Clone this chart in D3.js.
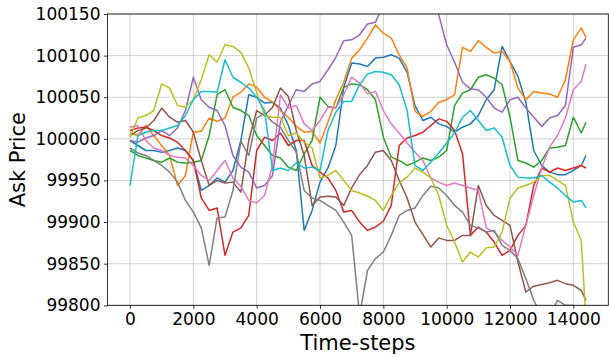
<!DOCTYPE html>
<html><head><meta charset="utf-8">
<script src="https://cdn.jsdelivr.net/npm/d3@7"></script>
<style>
html,body{margin:0;padding:0;background:#fff;}
svg{display:block;font-family:"DejaVu Sans",sans-serif;}
</style></head>
<body><svg id="c" width="609" height="357"></svg>
<script>
const timeSteps = [0,250,500,750,1000,1250,1500,1750,2000,2250,2500,2750,3000,3250,3500,3750,4000,4250,4500,4750,5000,5250,5500,5750,6000,6250,6500,6750,7000,7250,7500,7750,8000,8250,8500,8750,9000,9250,9500,9750,10000,10250,10500,10750,11000,11250,11500,11750,12000,12250,12500,12750,13000,13250,13500,13750,14000,14250,14400];
const blue   = [99998,99992,99986,99986,99984,99986,99989,99986,99974,99938,99944,99953,99948,99962,99998,100053,100050,100043,100044,100037,100016,99986,99890,99914,99948,99965,99992,100062,100091,100090,100087,100097,100098,100101,100097,100080,100040,100022,100026,100018,100015,100008,100014,100018,100028,100047,100059,100111,100093,100075,100044,99986,99968,99960,99957,99957,99962,99968,99980];
const orange = [100007,100004,100016,100004,99992,99980,99944,99956,100008,100009,100025,100021,100025,100050,100056,100066,100062,100050,100044,100034,100026,100015,100008,100009,99995,100020,100047,100068,100097,100107,100121,100137,100127,100121,100101,100085,100033,100027,100033,100044,100047,100053,100110,100105,100118,100110,100103,100105,100093,100061,100047,100057,100055,100054,100050,100071,100119,100133,100122];
const green  = [99986,99980,99977,99974,99972,99977,99972,99971,99972,99974,100004,100053,100059,100038,100034,100028,100004,99992,99980,99977,99966,99962,99982,99998,100050,100039,100037,100062,100066,100065,100059,100047,100002,99978,99974,99968,99972,99977,99974,99978,99986,100040,100055,100059,100074,100077,100073,100065,100026,99974,99971,99966,99974,99989,99990,99992,100026,100007,100020];
const red    = [100010,100013,100014,100010,100004,100001,99996,99986,99974,99929,99914,99917,99860,99888,99893,99908,99986,100002,99998,100007,99992,99998,99998,99968,99960,99953,99938,99912,99914,99900,99890,99894,99901,99920,99992,100001,100004,100008,100016,100024,100021,100010,99982,99884,99894,99888,99876,99860,99866,99884,99896,99944,99965,99960,99965,99962,99965,99968,99965];
const purple = [99998,99996,100001,100004,100010,100004,100013,100034,100074,100047,100038,100034,100016,99980,99966,99960,99941,99944,99956,100020,100040,100059,100057,100066,100069,100083,100098,100118,100119,100125,100138,100140,100161,100167,100167,100167,100167,100167,100161,100149,100113,100092,100068,100060,100059,100050,100037,100032,100047,100050,100037,100026,100015,100025,100028,100040,100110,100113,100121];
const brown  = [100004,100010,100013,100022,100037,100026,100020,100022,100008,99974,99944,99950,99947,99948,99936,99998,100034,100028,100038,100061,100051,100010,99980,99920,99930,99931,99930,99920,99941,99957,99968,99984,99986,99974,99950,99929,99900,99885,99870,99881,99878,99878,99884,99884,99944,99920,99908,99902,99896,99852,99816,99823,99825,99827,99830,99826,99824,99818,99806];
const pink   = [100014,100016,99998,99989,99986,99980,99978,99977,99968,99956,99950,99962,99974,99953,99943,99926,99923,99932,99968,100053,100037,100040,100018,100010,100022,100038,100037,100053,100074,100067,100054,100057,100034,100018,100007,99995,99984,99974,99953,99948,99944,99947,99944,99941,99938,99893,99888,99878,99870,99860,99896,99932,99965,99990,100004,100025,100059,100069,100090];
const gray   = [99989,99983,99980,99974,99968,99960,99948,99926,99912,99893,99848,99905,99906,99938,99997,99980,100025,100031,100020,100014,99998,99984,99938,99929,99926,99920,99914,99900,99884,99788,99842,99856,99864,99884,99908,99914,99917,99932,99943,99941,99932,99920,99912,99896,99893,99888,99890,99872,99866,99856,99832,99806,99788,99788,99806,99800,99800,99794,99794];
const olive  = [100002,100025,100028,100034,100066,100061,100040,100038,100047,100071,100101,100092,100113,100111,100104,100085,100056,100028,100026,100026,100004,100007,99996,99989,99953,99956,99962,99950,99938,99935,99931,99926,99914,99932,99947,99954,99965,99960,99953,99932,99896,99876,99852,99864,99858,99869,99870,99888,99929,99941,99944,99948,99956,99956,99950,99944,99900,99878,99782];
const cyan   = [99944,100004,100008,100010,100010,100013,100016,100028,100047,100057,100057,100056,100095,100074,100068,100061,100050,100034,99962,99965,99962,99971,99965,99966,99962,100010,100032,100045,100045,100065,100078,100081,100080,100077,100065,100034,99968,99962,99972,99983,99995,100007,100026,100034,100022,100010,100013,100002,99968,99954,99953,99953,99956,99948,99941,99932,99924,99926,99917];
const seriesList = [blue,orange,green,red,purple,brown,pink,gray,olive,cyan];
const colors = ["#1f77b4","#ff7f0e","#2ca02c","#d62728","#9467bd","#8c564b","#e377c2","#7f7f7f","#bcbd22","#17becf"];
const xTicks = [0,2000,4000,6000,8000,10000,12000,14000];
const yTicks = [99800,99850,99900,99950,100000,100050,100100,100150];
const xLabel = "Time-steps", yLabel = "Ask Price";

const L=107.5, R=608.3, T=14, B=305.3;
const svg = d3.select("#c");
const x = d3.scaleLinear().domain([-711,15104]).range([L,R]);
const y = d3.scaleLinear().domain([99800,100150]).range([B,T]);

svg.append("defs").append("clipPath").attr("id","clip")
  .append("rect").attr("x",L).attr("y",T).attr("width",R-L).attr("height",B-T);

const g = svg.append("g");
g.selectAll("line.gx").data(xTicks).join("line")
  .attr("x1",d=>x(d)).attr("x2",d=>x(d)).attr("y1",T).attr("y2",B)
  .attr("stroke","#b0b0b0").attr("stroke-width",0.8).attr("opacity",0.7);
g.selectAll("line.gy").data(yTicks).join("line")
  .attr("y1",d=>y(d)).attr("y2",d=>y(d)).attr("x1",L).attr("x2",R)
  .attr("stroke","#b0b0b0").attr("stroke-width",0.8).attr("opacity",0.7);

const line = d3.line().x((d,i)=>x(timeSteps[i])).y(d=>y(d));
const lg = svg.append("g").attr("clip-path","url(#clip)");
seriesList.forEach((s,k)=>{
  lg.append("path").datum(s).attr("d",line).attr("fill","none")
    .attr("stroke",colors[k]).attr("stroke-width",1.5).attr("stroke-linejoin","round");
});

const fs = 17;
const xa = svg.append("g").attr("transform",`translate(0,${B})`)
  .call(d3.axisBottom(x).tickValues(xTicks).tickFormat(d3.format("d")).tickSizeOuter(0).tickSize(3.5).tickPadding(4));
const ya = svg.append("g").attr("transform",`translate(${L},0)`)
  .call(d3.axisLeft(y).tickValues(yTicks).tickFormat(d3.format("d")).tickSizeOuter(0).tickSize(3.5).tickPadding(3.5));
[xa,ya].forEach(a=>{
  a.selectAll("text").attr("font-size",fs).attr("font-family","DejaVu Sans").attr("fill","#000");
  a.select(".domain").remove();
  a.selectAll("line").attr("stroke","#000").attr("stroke-width",0.8);
});
svg.append("rect").attr("x",L).attr("y",T).attr("width",R-L).attr("height",B-T)
  .attr("fill","none").attr("stroke","#000").attr("stroke-width",0.8);

svg.append("text").attr("x",(L+R)/2).attr("y",350).attr("text-anchor","middle")
  .attr("font-size",21).text(xLabel);
svg.append("text").attr("transform",`translate(25,${(T+B)/2}) rotate(-90)`).attr("text-anchor","middle")
  .attr("font-size",21).text(yLabel);
</script></body></html>
